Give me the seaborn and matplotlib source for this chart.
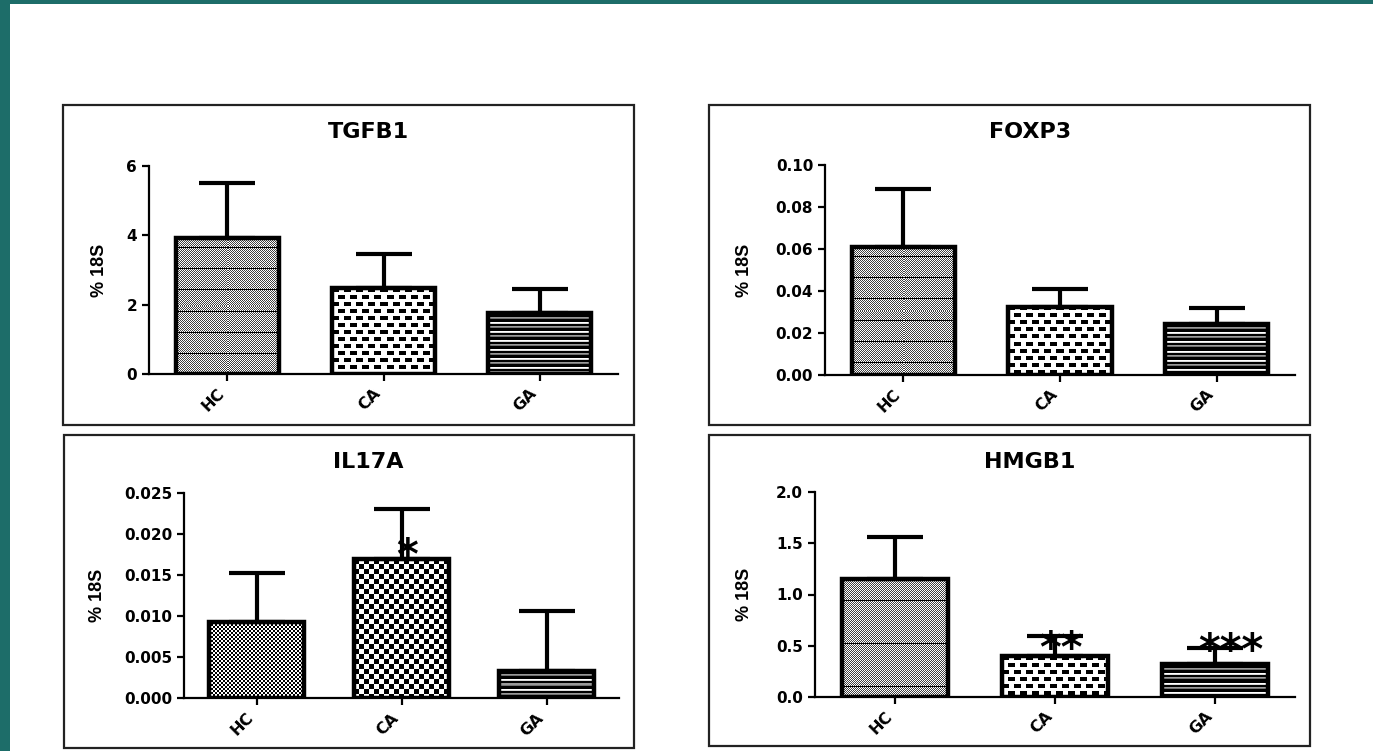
import numpy as np
import matplotlib
matplotlib.use("Agg")
import matplotlib.pyplot as plt
from matplotlib.patches import Rectangle
import seaborn as sns
import pandas as pd

# ---------------- data ----------------
groups = ["HC", "CA", "GA"]

tgfb1_mean = [3.93, 2.48, 1.75]
tgfb1_sd = [1.57, 0.99, 0.69]
tgfb1_ticks = [0, 2, 4, 6]
tgfb1_ticklabels = ["0", "2", "4", "6"]

foxp3_mean = [0.0611, 0.0325, 0.0243]
foxp3_sd = [0.0274, 0.0085, 0.0077]
foxp3_ticks = [0.00, 0.02, 0.04, 0.06, 0.08, 0.10]
foxp3_ticklabels = ["0.00", "0.02", "0.04", "0.06", "0.08", "0.10"]

il17a_mean = [0.00924, 0.0169, 0.0033]
il17a_sd = [0.0060, 0.0061, 0.0073]
il17a_ticks = [0.000, 0.005, 0.010, 0.015, 0.020, 0.025]
il17a_ticklabels = ["0.000", "0.005", "0.010", "0.015", "0.020", "0.025"]

hmgb1_mean = [1.152, 0.400, 0.317]
hmgb1_sd = [0.411, 0.197, 0.157]
hmgb1_ticks = [0.0, 0.5, 1.0, 1.5, 2.0]
hmgb1_ticklabels = ["0.0", "0.5", "1.0", "1.5", "2.0"]

il17a_stars = ["", "*", ""]
hmgb1_stars = ["", "**", "***"]

ylabel_text = "% 18S"

# ---------------- style ----------------
sns.set_style("ticks")
plt.rcParams["font.family"] = ["DejaVu Sans"]
plt.rcParams["font.weight"] = "bold"
plt.rcParams["text.color"] = "black"
plt.rcParams["axes.labelcolor"] = "black"

W, H = 1373, 751
fig = plt.figure(figsize=(W / 100, H / 100), dpi=100, facecolor="#1d6d69")
fig.add_artist(Rectangle((10 / W, 0), 1 - 10 / W, 1 - 4 / H,
                         transform=fig.transFigure, facecolor="white",
                         edgecolor="none", zorder=-10))


def px_axes(l, t, r, b):
    return fig.add_axes([l / W, 1 - b / H, (r - l) / W, (b - t) / H])


def px_box(l, t, r, b):
    fig.add_artist(Rectangle((l / W, 1 - b / H), (r - l) / W, (b - t) / H,
                             transform=fig.transFigure, facecolor="none",
                             edgecolor="#222222", linewidth=1.6, zorder=-5))


def texture(kind, h, w, line_sp=21):
    i, j = np.mgrid[0:h, 0:w]
    if kind == "stipple":
        t = np.where((i + j) % 2 == 0, 0.25, 1.0)
        t[(i % line_sp) == line_sp // 2] = 0.0
    elif kind == "dash":
        r = i // 7
        t = np.ones((h, w))
        mask = ((i % 7) < 4) & (((j + (r % 2) * 6) % 12) < 7)
        t[mask] = 0.0
    elif kind == "hline":
        seq = np.array([1.0, 0.85, 0.0, 0.0, 0.6, 0.45, 0.0, 0.0, 0.0])
        t = seq[i % 9]
    elif kind == "fine":
        t = ((i // 2 + j // 2) % 2).astype(float)
    else:  # checker
        t = ((i // 5 + j // 5) % 2).astype(float)
    return t


panels = [
    dict(title="TGFB1", mean=tgfb1_mean, sd=tgfb1_sd, ticks=tgfb1_ticks,
         labels=tgfb1_ticklabels, ax=(149, 166, 618, 374), box=(63, 105, 634, 425),
         tx=0.467, ty=0.163, ylx=-0.087, kinds=["stipple", "dash", "hline"], lsp=21,
         stars=None),
    dict(title="FOXP3", mean=foxp3_mean, sd=foxp3_sd, ticks=foxp3_ticks,
         labels=foxp3_ticklabels, ax=(825, 165, 1295, 375), box=(709, 105, 1310, 425),
         tx=0.436, ty=0.157, ylx=-0.153, kinds=["stipple", "dash", "hline"], lsp=21,
         stars=None),
    dict(title="IL17A", mean=il17a_mean, sd=il17a_sd, ticks=il17a_ticks,
         labels=il17a_ticklabels, ax=(184, 492.7, 619, 698.3), box=(64, 435, 634, 748),
         tx=0.423, ty=0.149, ylx=-0.179, kinds=["fine", "checker", "hline"], lsp=21,
         stars=(il17a_stars, [(1.04, 0.0172)])),
    dict(title="HMGB1", mean=hmgb1_mean, sd=hmgb1_sd, ticks=hmgb1_ticks,
         labels=hmgb1_ticklabels, ax=(815, 492.3, 1295, 696.7), box=(709, 435, 1310, 746),
         tx=0.448, ty=0.149, ylx=-0.129, kinds=["stipple", "dash", "hline"], lsp=43,
         stars=(hmgb1_stars, [(1.04, 0.46), (2.1, 0.44)])),
]

axes = []
for p in panels:
    px_box(*p["box"])
    ax = px_axes(*p["ax"])
    ax.set_facecolor("none")
    df = pd.DataFrame({"group": groups, "value": p["mean"]})
    sns.barplot(data=df, x="group", y="value", ax=ax, width=0.66,
                color="white", edgecolor="black", linewidth=3.2, errorbar=None,
                saturation=1)
    ax.errorbar(x=np.arange(len(groups)), y=p["mean"],
                yerr=[np.zeros(len(groups)), p["sd"]], fmt="none",
                ecolor="black", elinewidth=3, capsize=20, capthick=3, zorder=3)
    ax.set_xlim(-0.5, 2.5)
    ax.set_ylim(p["ticks"][0], p["ticks"][-1])
    ax.set_yticks(p["ticks"])
    ax.set_yticklabels(p["labels"], fontsize=11, fontweight="bold")
    ax.set_xticks(range(len(groups)))
    ax.set_xticklabels(groups, rotation=45, ha="right", fontsize=11.5,
                       fontweight="bold")
    ax.set_xlabel("")
    ax.set_ylabel(ylabel_text, fontsize=13, fontweight="bold", color="black",
                  family=["Liberation Sans", "DejaVu Sans"])
    ax.yaxis.set_label_coords(p["ylx"], 0.5)
    for s in ["top", "right"]:
        ax.spines[s].set_visible(False)
    for s in ["left", "bottom"]:
        ax.spines[s].set_linewidth(1.6)
        ax.spines[s].set_color("black")
    ax.tick_params(axis="both", direction="out", length=5, width=1.6,
                   color="black", labelcolor="black")
    ax.text(p["tx"], 1 + p["ty"], p["title"], transform=ax.transAxes,
            ha="center", va="center", fontsize=16, fontweight="bold",
            color="black")
    if p["stars"]:
        labs, pos = p["stars"]
        k = 0
        for lab in labs:
            if lab:
                x, y = pos[k]
                k += 1
                ax.text(x, y, lab, ha="center", va="center", fontsize=30,
                        fontweight="bold", color="black", zorder=5)
    axes.append((ax, p))

fig.canvas.draw()
renderer = fig.canvas.get_renderer()
for ax, p in axes:
    for patch, kind in zip(ax.patches, p["kinds"]):
        bb = patch.get_window_extent(renderer)
        w = max(int(round(bb.width)), 1)
        h = max(int(round(bb.height)), 1)
        t = texture(kind, h, w, p["lsp"])
        x0, y0 = patch.get_x(), patch.get_y()
        x1, y1 = x0 + patch.get_width(), y0 + patch.get_height()
        ax.imshow(t, cmap="gray", vmin=0, vmax=1, extent=(x0, x1, y0, y1),
                  origin="upper", interpolation="nearest", aspect="auto",
                  zorder=patch.get_zorder() - 0.1, clip_path=patch)
        patch.set_facecolor("none")
    ax.set_xlim(-0.5, 2.5)
    ax.set_ylim(p["ticks"][0], p["ticks"][-1])

fig.savefig("out.png", dpi=100, facecolor=fig.get_facecolor())
